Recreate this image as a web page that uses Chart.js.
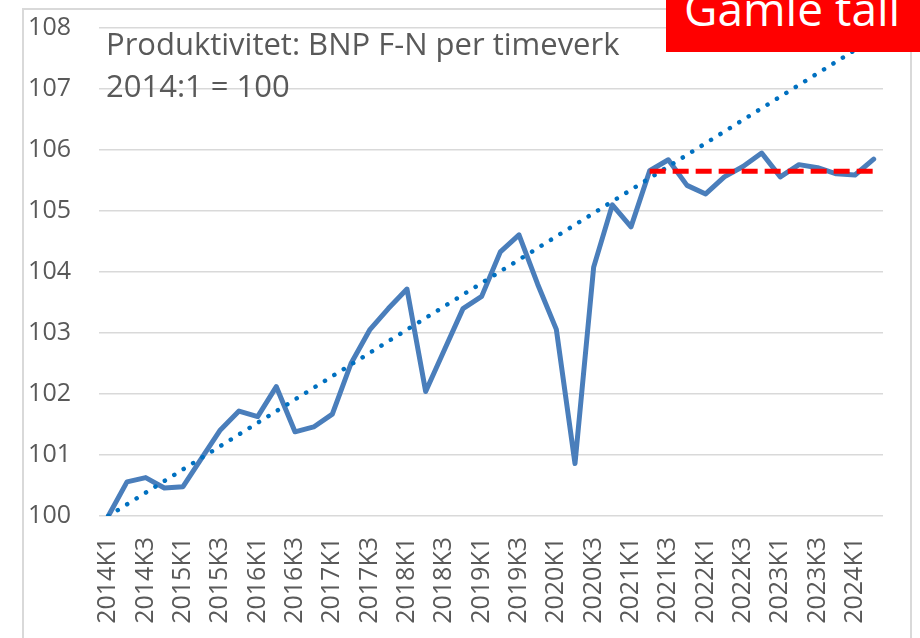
<!DOCTYPE html>
<html>
<head>
<meta charset="utf-8">
<script src="https://cdn.jsdelivr.net/npm/chart.js@4.4.1/dist/chart.umd.min.js"></script>
<style>
  html, body { margin: 0; padding: 0; background: #ffffff; }
  #wrap { position: relative; width: 920px; height: 638px; overflow: hidden; background: #fff; }
  #frame { position: absolute; left: 22px; top: 8px; width: 890px; height: 700px; border: 2px solid #d9d9d9; box-sizing: border-box; }
  canvas { position: absolute; left: 0; top: 0; }
  .note { position: absolute; font-family: "Open Sans", sans-serif; color: #595959; white-space: nowrap; line-height: 1; }
  #badge { position: absolute; left: 666px; top: 0; width: 254px; height: 52px; background: #ff0000; overflow: hidden; }
  #badge span { position: absolute; left: 18px; top: -15px; font-family: "Open Sans", sans-serif; font-size: 46px; line-height: 1; color: #ffffff; white-space: nowrap; }
</style>
</head>
<body>
<div id="wrap">
  <div id="frame"></div>
  <canvas id="c" width="920" height="638"></canvas>
  <div class="note" id="t1" style="left:106px; top:28px; font-size:31px;">Produktivitet: BNP F-N per timeverk</div>
  <div class="note" id="t2" style="left:106px; top:70px; font-size:31px;">2014:1 = 100</div>
  <div id="badge"><span>Gamle tall</span></div>
</div>
<script>
// Categories (quarters 2014K1 .. 2024K2)
const categories = [
  "2014K1","2014K2","2014K3","2014K4",
  "2015K1","2015K2","2015K3","2015K4",
  "2016K1","2016K2","2016K3","2016K4",
  "2017K1","2017K2","2017K3","2017K4",
  "2018K1","2018K2","2018K3","2018K4",
  "2019K1","2019K2","2019K3","2019K4",
  "2020K1","2020K2","2020K3","2020K4",
  "2021K1","2021K2","2021K3","2021K4",
  "2022K1","2022K2","2022K3","2022K4",
  "2023K1","2023K2","2023K3","2023K4",
  "2024K1","2024K2"
];

// Produktivitet, BNP Fastlands-Norge per timeverk (2014:1 = 100)
const produktivitet = [
  100.00, 100.56, 100.63, 100.46,
  100.48, 100.95, 101.41, 101.72,
  101.63, 102.12, 101.38, 101.46,
  101.67, 102.50, 103.05, 103.40,
  103.72, 102.04, 102.72, 103.40,
  103.60, 104.33, 104.61, 103.80,
  103.06, 100.86, 104.08, 105.10,
  104.74, 105.66, 105.84, 105.42,
  105.28, 105.56, 105.73, 105.95,
  105.56, 105.76, 105.71, 105.61,
  105.59, 105.85
];

// Linear trend (endpoints)
const trendStart = 100.0;
const trendEnd = 107.83;

// Flat level after 2021K2 (red dashed)
const nivaaStartIndex = 29;
const nivaa = 105.65;

// Y tick values
const yTicks = [100, 101, 102, 103, 104, 105, 106, 107, 108];

const trendlinje = categories.map((_, i) => i === 0 ? trendStart : (i === categories.length - 1 ? trendEnd : null));
const nivaalinje = categories.map((_, i) => (i === nivaaStartIndex || i === categories.length - 1) ? nivaa : null);

const tickFont = { family: "Open Sans", size: 25 };

new Chart(document.getElementById('c'), {
  type: 'line',
  data: {
    labels: categories,
    datasets: [
      {
        label: 'Nivå',
        data: nivaalinje,
        borderColor: '#ff0000',
        borderWidth: 5,
        borderDash: [16, 7],
        pointRadius: 0,
        spanGaps: true,
        fill: false
      },
      {
        label: 'Trend',
        data: trendlinje,
        borderColor: '#0070c0',
        borderWidth: 4.5,
        borderDash: [0.1, 11],
        borderCapStyle: 'round',
        pointRadius: 0,
        spanGaps: true,
        fill: false
      },
      {
        label: 'Produktivitet',
        data: produktivitet,
        borderColor: '#4a7ebb',
        borderWidth: 5,
        borderJoinStyle: 'round',
        borderCapStyle: 'round',
        pointRadius: 0,
        tension: 0,
        fill: false
      }
    ]
  },
  options: {
    responsive: false,
    animation: false,
    events: [],
    layout: { padding: { left: 0, right: 37, top: 28, bottom: 0 } },
    plugins: {
      legend: { display: false },
      tooltip: { enabled: false },
      title: { display: false }
    },
    scales: {
      x: {
        type: 'category',
        offset: true,
        grid: { display: false, drawTicks: false },
        border: { display: false },
        ticks: {
          autoSkip: false,
          minRotation: 90,
          maxRotation: 90,
          padding: 21,
          color: '#595959',
          font: tickFont,
          callback: function(value, index) { return index % 2 === 0 ? categories[index] : ''; }
        },
        afterFit: function(scale) { scale.height = 122; scale.paddingLeft = 0; scale.paddingRight = 0; }
      },
      y: {
        min: 100,
        max: 108,
        afterBuildTicks: function(scale) { scale.ticks = yTicks.map(v => ({ value: v })); },
        grid: { color: '#d9d9d9', lineWidth: 1.5, drawTicks: false },
        border: { display: false },
        ticks: {
          padding: 28,
          color: '#595959',
          font: tickFont,
          callback: v => String(v)
        },
        afterFit: function(scale) { scale.width = 99; scale.paddingTop = 0; scale.paddingBottom = 0; }
      }
    }
  }
});
</script>
</body>
</html>
